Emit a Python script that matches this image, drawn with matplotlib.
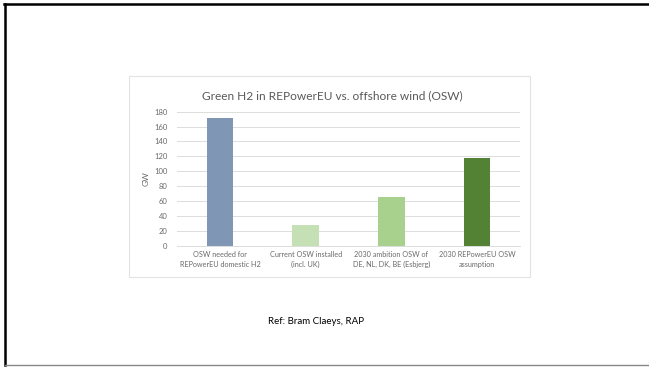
#Importing Relevant Libraries
import matplotlib
matplotlib.use("Agg")
import matplotlib.pyplot as plt
from matplotlib.patches import Rectangle
from matplotlib.lines import Line2D

plt.rcParams['font.family'] = ['Lato', 'DejaVu Sans']

#Chart data
categories = ["OSW needed for\nREPowerEU domestic H2",
              "Current OSW installed\n(incl. UK)",
              "2030 ambition OSW of\nDE, NL, DK, BE (Esbjerg)",
              "2030 REPowerEU OSW\nassumption"]
gw_values = [171, 28, 65, 118]
bar_colors = ["#7F96B5", "#C5E0B4", "#A9D18E", "#548235"]
y_ticks = [0, 20, 40, 60, 80, 100, 120, 140, 160, 180]

W, H = 649, 367
fig = plt.figure(figsize=(W / 100, H / 100), dpi=100)

#slide frame (top, left black; bottom grey)
fig.add_artist(Line2D([4 / W, 1], [1 - 4 / H, 1 - 4 / H], color="black", lw=1.8))
fig.add_artist(Line2D([5 / W, 5 / W], [1 - 4 / H, 1 - 365 / H], color="black", lw=1.8))
fig.add_artist(Line2D([5 / W, 1], [1 - 365 / H, 1 - 365 / H], color="#888888", lw=1.0))

#chart box
fig.add_artist(Rectangle((129 / W, 1 - 277 / H), (530 - 129) / W, (277 - 76) / H,
                         transform=fig.transFigure, fill=False,
                         edgecolor="#E3E3E3", lw=0.8))

#bar chart
ax = fig.add_axes([177 / W, 1 - 245.7 / H, 343 / W, (245.7 - 111.7) / H])
x = range(len(categories))
ax.bar(x, gw_values, width=0.31, color=bar_colors, zorder=3)
ax.set_xlim(-0.5, len(categories) - 0.5)
ax.set_ylim(0, 180)
ax.set_yticks(y_ticks)
ax.set_xticks(list(x))
ax.set_xticklabels(categories, fontsize=5.2, color="#6A6A6A", linespacing=1.5)
ax.tick_params(axis="y", labelsize=5.5, labelcolor="#6A6A6A", length=0, pad=7)
ax.tick_params(axis="x", length=0, pad=4)
ax.grid(axis="y", color="#DDDDDD", lw=0.7, zorder=0)
for s in ["top", "right", "left"]:
    ax.spines[s].set_visible(False)
ax.spines["bottom"].set_color("#DDDDDD")
ax.spines["bottom"].set_linewidth(0.7)
ax.set_ylabel("GW", fontsize=6, color="#6A6A6A", labelpad=3)

fig.text(332 / W, 1 - 96 / H, "Green H2 in REPowerEU vs. offshore wind (OSW)",
         ha="center", va="center", fontsize=8.6, color="#595959")

fig.text(316 / W, 1 - 321 / H, "Ref: Bram Claeys, RAP",
         ha="center", va="center", fontsize=7, color="black")

fig.savefig("out.png", dpi=100)
